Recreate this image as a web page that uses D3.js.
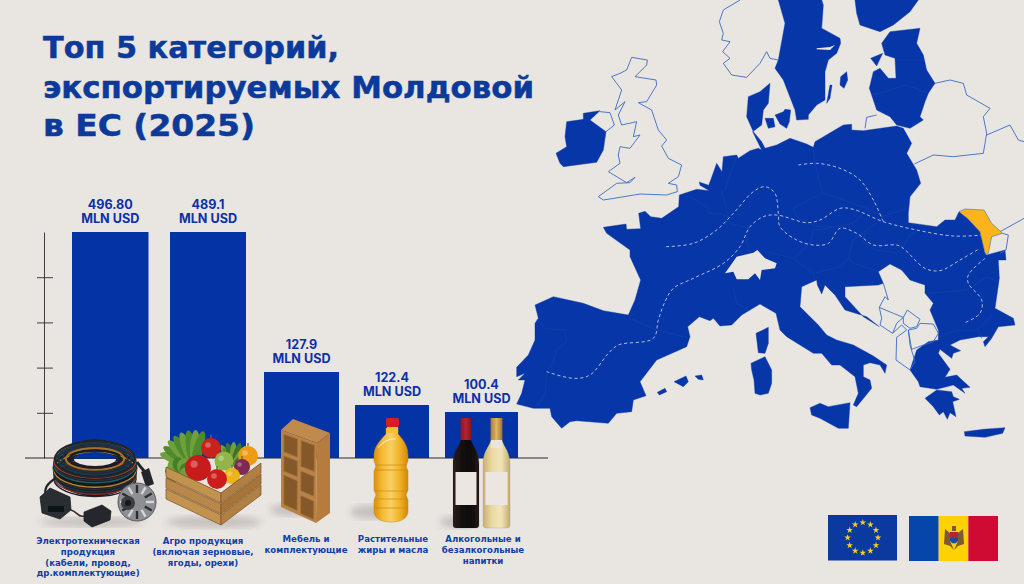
<!DOCTYPE html>
<html>
<head>
<meta charset="utf-8">
<script src="https://cdnjs.cloudflare.com/ajax/libs/d3/7.8.5/d3.min.js"></script>
<style>
  html, body { margin: 0; padding: 0; background: #e9e5e1; }
  svg { display: block; }
  .title { font: bold 29.5px "DejaVu Sans", sans-serif; fill: #0b3a9b; stroke: #0b3a9b; stroke-width: 0.5; }
  .val { font: bold 12.6px Inter, "Liberation Sans", sans-serif; fill: #0d30a8; text-anchor: middle; }
  .cat { font: bold 8.6px "DejaVu Sans", sans-serif; fill: #0f3fa8; text-anchor: middle; }
</style>
</head>
<body>
<svg id="chart" width="1024" height="584"></svg>
<script>
// chart data
var titleLines = ['Топ 5 категорий,', 'экспортируемых Молдовой', 'в ЕС (2025)'];
var categories = ['electro', 'agro', 'furniture', 'oils', 'drinks'];
var values = [496.8, 489.1, 127.9, 122.4, 100.4];
var valueLabels = ['496.80', '489.1', '127.9', '122.4', '100.4'];
var unitLabel = 'MLN USD';
var categoryLabels = [
  ['Электротехническая', 'продукция', '(кабели, провод,', 'др.комплектующие)'],
  ['Агро продукция', '(включая зерновые,', 'ягоды, орехи)'],
  ['Мебель и', 'комплектующие'],
  ['Растительные', 'жиры и масла'],
  ['Алкогольные и', 'безалкогольные', 'напитки']
];
var axisTicks = [1, 2, 3, 4];

// map outlines (3 units = 1 px)
var mainland = [[250,682],[318,672],[320,688],[362,686],[356,640],[375,634],[392,650],[425,655],[476,620],[478,585],[530,568],[568,572],[540,556],[538,546],[566,556],[574,535],[590,490],[606,515],[610,470],[650,465],[655,475],[690,452],[715,445],[725,450],[715,430],[698,395],[725,375],[730,330],[745,310],[750,250],[720,275],[685,290],[680,350],[700,395],[725,425],[735,445],[770,435],[810,415],[860,432],[880,442],[885,425],[970,375],[995,373],[995,390],[1030,392],[1130,378],[1150,385],[1175,430],[1160,460],[1190,510],[1202,550],[1170,590],[1165,640],[1165,668],[1250,680],[1275,660],[1305,660],[1317,635],[1342,655],[1380,695],[1395,760],[1400,765],[1455,750],[1458,780],[1435,780],[1438,835],[1425,925],[1480,955],[1485,975],[1435,980],[1415,1015],[1395,1040],[1390,1025],[1405,1010],[1375,1010],[1320,1020],[1290,1035],[1322,1052],[1300,1060],[1295,1075],[1260,1048],[1255,1060],[1290,1108],[1275,1132],[1310,1125],[1350,1162],[1325,1165],[1335,1180],[1300,1155],[1250,1168],[1200,1160],[1195,1145],[1170,1110],[1190,1050],[1225,1025],[1255,1020],[1255,990],[1230,930],[1240,910],[1215,880],[1215,855],[1170,840],[1145,810],[1110,792],[1075,815],[1090,850],[1075,855],[975,860],[975,890],[1030,950],[1078,980],[1040,950],[975,930],[945,885],[915,855],[905,882],[892,855],[890,840],[845,860],[840,920],[895,975],[920,1005],[950,1020],[1000,1035],[1060,1068],[1100,1095],[1095,1120],[1080,1095],[1050,1088],[1030,1095],[1030,1130],[1050,1140],[1055,1165],[1010,1220],[1000,1215],[1015,1180],[1005,1130],[960,1095],[935,1095],[905,1060],[880,1060],[800,1010],[780,990],[768,940],[720,912],[665,945],[635,975],[600,978],[580,955],[570,962],[538,950],[503,980],[510,1010],[500,1040],[410,1080],[360,1145],[378,1187],[340,1200],[335,1235],[290,1240],[265,1270],[170,1262],[150,1265],[125,1285],[95,1250],[90,1225],[40,1225],[-10,1212],[5,1180],[15,1140],[-5,1140],[15,1120],[-10,1130],[-10,1102],[25,1065],[45,1020],[45,970],[55,955],[45,915],[100,890],[190,910],[250,932],[325,945],[345,900],[362,840],[330,770],[330,750],[260,700]];
var landParts = [
  [[775,0],[905,0],[910,15],[905,85],[960,115],[962,130],[950,160],[925,180],[915,215],[915,300],[890,315],[865,345],[865,358],[830,360],[825,330],[790,240],[765,205],[775,180],[795,70]], // sweden
  [[1005,0],[1195,0],[1170,35],[1120,75],[1080,95],[1020,75],[1010,40]], // finland
  [[1085,130],[1110,95],[1200,85],[1190,130],[1210,165],[1220,210],[1245,250],[1225,280],[1215,305],[1200,350],[1210,360],[1170,385],[1130,375],[1110,350],[1070,330],[1060,300],[1048,265],[1060,215],[1080,205],[1105,235],[1128,235],[1125,175],[1095,165]], // baltics
  [[1052,175],[1088,160],[1070,198]],
  [[962,230],[980,215],[983,240],[972,265],[960,255]],
  [[920,310],[930,255],[936,255],[930,295]],
  [[735,355],[760,355],[765,380],[745,385]],
  [[765,345],[790,335],[795,328],[812,330],[808,365],[800,385],[780,372]],
  [[108,460],[140,440],[135,410],[140,365],[190,358],[190,340],[240,332],[210,360],[258,395],[250,450],[230,487],[130,500],[120,490]], // ireland
  [[870,1223],[900,1210],[925,1220],[990,1208],[985,1285],[955,1285],[900,1255],[875,1245]], // sicily
  [[708,1000],[745,982],[745,1030],[735,1060],[715,1058]],
  [[693,1090],[735,1070],[755,1110],[755,1150],[745,1180],[720,1185],[705,1180],[702,1140],[695,1110]],
  [[412,1177],[435,1165],[440,1175],[418,1185]],
  [[462,1145],[498,1128],[505,1145],[490,1160]],
  [[525,1128],[545,1125],[550,1140],[535,1138]],
  [[1215,1195],[1250,1170],[1295,1175],[1300,1190],[1318,1198],[1298,1205],[1308,1250],[1290,1238],[1282,1258],[1270,1235],[1258,1245],[1240,1220]], // peloponnese
  [[1333,1295],[1390,1288],[1455,1283],[1448,1300],[1395,1312],[1335,1308]] // crete
];
var cutouts = [
  [[615,820],[650,770],[700,758],[712,750],[735,775],[770,790],[765,805],[725,810],[720,840],[705,820],[685,838],[650,838],[640,815]], // switzerland
  [[890,145],[930,141],[945,135],[930,150],[890,148]]
];
var moldova = [[1317,635],[1335,627],[1392,630],[1415,670],[1448,700],[1415,710],[1405,760],[1395,760],[1380,695],[1342,655]];
var outlines = [
  [[660,0],[610,30],[598,65],[610,100],[605,120],[630,125],[608,155],[630,175],[610,190],[635,225],[680,232],[720,190],[740,155],[750,175],[775,180]], // norway
  [[335,172],[382,180],[380,195],[345,230],[408,240],[410,255],[380,305],[355,308],[395,330],[415,390],[440,420],[425,438],[445,475],[485,495],[475,530],[445,550],[470,555],[472,575],[440,585],[360,582],[300,592],[250,600],[235,590],[290,550],[330,548],[345,532],[320,548],[265,515],[300,490],[295,465],[300,440],[330,445],[360,405],[340,410],[350,365],[305,375],[295,345],[315,305],[285,330],[305,270],[275,230],[300,220],[320,210],[335,172]], // britain
  [[240,335],[270,338],[283,375],[258,395]],
  [[1245,250],[1290,240],[1330,250],[1340,285],[1410,325],[1390,350],[1400,400],[1390,460],[1300,470],[1240,465],[1183,492]], // belarus
  [[1400,405],[1470,375],[1495,420],[1512,425]],
  [[1035,385],[1040,352],[1070,345]],
  [[1448,700],[1465,705],[1458,750],[1440,760]],
  [[1440,695],[1500,662],[1512,655]],
  [[1090,850],[1105,900],[1095,890],[1078,922]],
  [[1078,922],[1120,940],[1150,952],[1130,970],[1118,1000],[1080,975],[1085,955],[1078,922]],
  [[1150,952],[1162,930],[1200,958],[1190,980],[1170,985],[1150,970],[1150,952]],
  [[1118,1000],[1145,975],[1160,990],[1130,1012],[1128,1080],[1170,1110],[1185,1085],[1170,1035],[1165,990]],
  [[1165,990],[1190,985],[1200,970],[1240,972],[1255,1000],[1240,1025],[1210,1035],[1175,1048],[1165,990]]
];
var borders = [
  [[510,590],[560,620],[570,640],[600,640],[625,650],[630,670],[685,685],[680,725],[690,757]],
  [[615,570],[625,540],[650,470]],
  [[605,570],[625,650]],
  [[880,445],[885,490],[905,570],[905,578]],
  [[820,625],[905,578],[970,600],[1040,625],[1090,650],[1160,625]],
  [[820,625],[830,650],[890,680],[950,680],[1000,670],[1030,640]],
  [[1090,650],[1040,690],[1030,725],[1065,750],[1140,760],[1165,710],[1190,690]],
  [[950,680],[880,690],[870,730],[820,775],[740,755]],
  [[820,775],[880,820],[885,840]],
  [[880,820],[960,800],[985,775],[1000,790],[1075,815]],
  [[985,775],[1000,720],[1040,690]],
  [[330,955],[410,990],[500,1012]],
  [[50,960],[75,985],[135,990],[140,1025],[110,1050],[100,1090],[80,1115],[75,1180],[50,1220]],
  [[640,860],[650,910],[690,930]],
  [[1225,880],[1340,870],[1400,830],[1435,845]],
  [[1255,1012],[1310,990],[1375,990],[1420,940]],
  [[1375,990],[1385,1015]],
  [[1130,180],[1210,180]],
  [[1060,285],[1160,255],[1225,280]]
];
var routes = [
  [[835,495],[890,490],[960,505],[1020,540],[1060,600],[1090,665]],
  [[1390,705],[1300,708],[1190,690],[1090,665],[1000,628],[960,625],[900,660],[860,668],[770,645],[730,650],[690,680],[660,740],[610,790],[520,835],[460,865],[435,905],[415,960],[400,1015],[295,1035],[265,1060],[210,1125],[160,1135],[80,1115]],
  [[438,740],[520,730],[590,690],[640,640],[700,575],[735,560],[765,580],[775,640],[780,680],[830,720],[880,735],[925,730],[960,685],[1010,700],[1060,735],[1130,735],[1150,745],[1215,805],[1260,812],[1320,780],[1380,745]],
  [[1395,775],[1345,825],[1345,850],[1385,900],[1380,940],[1335,968]]
];

var blue = '#0433a6', ink = '#2b2b2b', mapBlue = '#0736a8';
var svg = d3.select('#chart');
var defs = svg.append('defs');
defs.append('filter').attr('id', 'soft').append('feGaussianBlur').attr('stdDeviation', 3.5);
defs.append('filter').attr('id', 'tiny').append('feGaussianBlur').attr('stdDeviation', 0.3);

function gradient(id, stops, vertical) {
  var g = defs.append('linearGradient').attr('id', id)
    .attr('x1', 0).attr('y1', 0).attr('x2', vertical ? 0 : 1).attr('y2', vertical ? 1 : 0);
  stops.forEach(function(s, i) {
    g.append('stop').attr('offset', i / (stops.length - 1)).attr('stop-color', s);
  });
  return 'url(#' + id + ')';
}

svg.append('rect').attr('width', 1024).attr('height', 584).attr('fill', '#e9e5e1');

// ---- map ----
var mapX = d3.scaleLinear().domain([0, 1512]).range([520, 1024]);
var mapY = d3.scaleLinear().domain([0, 1752]).range([0, 584]);
var shape = d3.line().x(function(d) { return mapX(d[0]); }).y(function(d) { return mapY(d[1]); });
var smooth = d3.line().x(function(d) { return mapX(d[0]); }).y(function(d) { return mapY(d[1]); }).curve(d3.curveCatmullRom);
var map = svg.append('g');

map.selectAll('.land').data([mainland].concat(landParts)).join('path').attr('class', 'land')
  .attr('d', function(d) { return shape(d) + 'Z'; }).attr('fill', mapBlue).attr('stroke', mapBlue).attr('stroke-width', 0.4);
map.selectAll('.cut').data(cutouts).join('path').attr('class', 'cut')
  .attr('d', function(d) { return shape(d) + 'Z'; }).attr('fill', '#e9e5e1');
map.selectAll('.border').data(borders).join('path').attr('class', 'border')
  .attr('d', shape).attr('fill', 'none').attr('stroke', '#1346ac').attr('stroke-width', 0.6);
map.selectAll('.outline').data(outlines).join('path').attr('class', 'outline')
  .attr('d', shape).attr('fill', 'none').attr('stroke', '#3a6cc6').attr('stroke-width', 0.9);
map.selectAll('.route').data(routes).join('path').attr('class', 'route')
  .attr('d', smooth).attr('fill', 'none').attr('stroke', '#c6cbe0').attr('stroke-width', 0.9).attr('stroke-dasharray', '3.2 2.6');
map.append('path').attr('d', shape(moldova) + 'Z').attr('fill', '#fbb41c').attr('stroke', '#2a5fb8').attr('stroke-width', 0.5);

// ---- title ----
var titleWidths = d3.scaleOrdinal(titleLines, [296, 491, 212]);
svg.selectAll('.title').data(titleLines).join('text').attr('class', 'title')
  .attr('x', 43).attr('y', function(d, i) { return [58, 98, 136][i]; })
  .attr('textLength', function(d) { return titleWidths(d); }).attr('lengthAdjust', 'spacingAndGlyphs')
  .text(function(d) { return d; });

// ---- bars ----
// the picture's bars are not to one linear scale, so the scale follows it value by value
var y = d3.scaleLinear().domain([0, 100.4, 122.4, 127.9, 489.1, 496.8]).range([458, 412, 405, 372, 232, 232]);
var xLeft = d3.scaleOrdinal(categories, [72, 170, 264, 355, 445]);
var xRight = d3.scaleOrdinal(categories, [148.5, 246, 339, 429, 518]);
var rows = categories.map(function(c, i) { return { cat: c, v: values[i], label: valueLabels[i], lines: categoryLabels[i] }; });

svg.selectAll('.bar').data(rows).join('rect').attr('class', 'bar')
  .attr('x', function(d) { return xLeft(d.cat); })
  .attr('y', function(d) { return y(d.v); })
  .attr('width', function(d) { return xRight(d.cat) - xLeft(d.cat); })
  .attr('height', function(d) { return y(0) - y(d.v); })
  .attr('fill', blue);

var labels = svg.selectAll('.lab').data(rows).join('g').attr('class', 'lab')
  .attr('transform', function(d) { return 'translate(' + (xLeft(d.cat) + xRight(d.cat)) / 2 + ',' + y(d.v) + ')'; });
labels.append('text').attr('class', 'val').attr('y', -23).text(function(d) { return d.label; });
labels.append('text').attr('class', 'val').attr('y', -9).text(unitLabel);

// unlabelled value axis
var axisScale = d3.scaleLinear().domain([0, 5]).range([458, 232]);
var axis = svg.append('g').attr('transform', 'translate(44,0)')
  .call(d3.axisLeft(axisScale).tickValues(axisTicks).tickSize(7).tickFormat('').tickSizeOuter(0));
axis.select('.domain').attr('stroke', ink).attr('stroke-width', 0.9);
axis.selectAll('.tick line').attr('x2', 9).attr('x1', -7).attr('stroke', ink).attr('stroke-width', 0.9);
svg.append('line').attr('x1', 25).attr('x2', 548).attr('y1', 458).attr('y2', 458).attr('stroke', ink).attr('stroke-width', 1);

// ---- product pictures ----
var pics = svg.append('g').attr('filter', 'url(#tiny)');
function shadow(cx, cy, rx, ry) {
  pics.append('ellipse').attr('cx', cx).attr('cy', cy).attr('rx', rx).attr('ry', ry)
    .attr('fill', '#6b6560').attr('opacity', 0.28).attr('filter', 'url(#soft)');
}
function poly(g, pts, fill, stroke) {
  return g.append('polygon').attr('points', pts.join(' ')).attr('fill', fill)
    .attr('stroke', stroke || 'none').attr('stroke-width', stroke ? 0.7 : 0);
}

// cable coil
shadow(92, 522, 52, 5);
var cableColors = ['#1d2026', '#8f2a26', '#15384f', '#2a2d33', '#b9862a', '#14161b', '#1b5f66', '#2f3238', '#a8402a', '#14161b'];
pics.append('ellipse').attr('cx', 95).attr('cy', 468).attr('rx', 42.5).attr('ry', 28.5).attr('fill', '#1a1c21');
d3.range(9).forEach(function(i) {
  pics.append('ellipse').attr('cx', 95).attr('cy', 479 - i * 2.3).attr('rx', 41).attr('ry', 17.5)
    .attr('fill', 'none').attr('stroke', cableColors[i]).attr('stroke-width', 1.4);
});
['#23262c', '#15384f', '#2a2d33', '#a8722a', '#1b1d22'].forEach(function(c, i) {
  pics.append('ellipse').attr('cx', 95).attr('cy', 459).attr('rx', 40 - i * 3.6).attr('ry', 18 - i * 2.4)
    .attr('fill', 'none').attr('stroke', c).attr('stroke-width', 2.1);
});
pics.append('ellipse').attr('cx', 95).attr('cy', 459).attr('rx', 21).attr('ry', 7).attr('fill', blue);
pics.append('path').attr('d', 'M74,459A21,7 0 0 0 116,459Z').attr('fill', '#e9e5e1');
pics.append('line').attr('x1', 74).attr('x2', 116).attr('y1', 458).attr('y2', 458).attr('stroke', ink).attr('stroke-width', 1);
pics.append('path').attr('d', 'M56,478C46,484 44,490 46,494').attr('fill', 'none').attr('stroke', '#23262b').attr('stroke-width', 2.2);
pics.append('path').attr('d', 'M137,462C141,468 144,470 146,474').attr('fill', 'none').attr('stroke', '#23262b').attr('stroke-width', 3);
poly(pics, [[141,472],[149,468],[154,484],[146,487]], '#24262b');
poly(pics, [[40,497],[50,488],[70,497],[71,510],[60,519],[42,513]], '#2c2e33', '#17181b');
poly(pics, [[48,506],[64,506],[64,512],[48,512]], '#111214');
pics.append('path').attr('d', 'M71,510C78,512 78,518 84,516').attr('fill', 'none').attr('stroke', '#3a2f25').attr('stroke-width', 1.6);
poly(pics, [[84,512],[102,505],[111,511],[110,520],[92,527],[84,521]], '#26282d', '#15161a');
// alternator
pics.append('circle').attr('cx', 137).attr('cy', 502).attr('r', 19).attr('fill', '#8d8f93').attr('stroke', '#55575b').attr('stroke-width', 1);
d3.range(12).forEach(function(i) {
  var a = i * Math.PI / 6;
  pics.append('line').attr('x1', 137 + 9 * Math.cos(a)).attr('y1', 502 + 9 * Math.sin(a))
    .attr('x2', 137 + 17 * Math.cos(a)).attr('y2', 502 + 17 * Math.sin(a))
    .attr('stroke', i % 2 ? '#2c2d30' : '#d5d6d8').attr('stroke-width', 2.4);
});
pics.append('circle').attr('cx', 128).attr('cy', 503).attr('r', 7).attr('fill', '#3b3c40');
pics.append('circle').attr('cx', 128).attr('cy', 503).attr('r', 3).attr('fill', '#15161a');

// crate with vegetables
shadow(214, 522, 48, 6);
function leaves(cx, cy, len, wid, from, to, n, fill) {
  d3.range(n).forEach(function(i) {
    var a = from + (to - from) * i / (n - 1);
    pics.append('ellipse').attr('cx', 0).attr('cy', -len / 2).attr('rx', wid).attr('ry', len / 2)
      .attr('fill', i % 2 ? fill : '#6f9f3a')
      .attr('transform', 'translate(' + cx + ',' + cy + ') rotate(' + a + ')');
  });
}
leaves(194, 466, 36, 5, -70, 15, 8, '#4f8a2e');
leaves(180, 472, 15, 6, -120, 100, 7, '#43802b');
leaves(233, 466, 24, 3.5, -30, 65, 7, '#3e7327');
[[211,448,10,'#c9201d'],[224,461,9.5,'#93b449'],[248,456,10,'#ee9c16'],[242,467,8,'#7e2a52'],[198,468,13,'#c81c1a'],[232,476,8,'#edb41c'],[217,479,10,'#cc1e1a']].forEach(function(v) {
  pics.append('circle').attr('cx', v[0]).attr('cy', v[1]).attr('r', v[2]).attr('fill', v[3]);
  pics.append('circle').attr('cx', v[0] - v[2] * 0.3).attr('cy', v[1] - v[2] * 0.3).attr('r', v[2] * 0.28).attr('fill', '#fff').attr('opacity', 0.3);
  pics.append('path').attr('d', 'M' + v[0] + ',' + (v[1] - v[2]) + 'l0,-3').attr('stroke', '#4c7d2a').attr('stroke-width', 1.4);
});
poly(pics, [[166,467],[221,493],[261,463],[261,468],[221,498],[166,472]], '#8a5a2c');
[0, 1, 2].forEach(function(i) {
  var t = 467 + i * 11, p = 10;
  poly(pics, [[166,t],[221,t + 26],[221,t + 26 + p],[166,t + p]], i % 2 ? '#b9874a' : '#c2924f', '#7b5128');
  poly(pics, [[221,t + 26],[261,t - 4],[261,t - 4 + p],[221,t + 26 + p]], i % 2 ? '#a67339' : '#b07f42', '#7b5128');
});

// shelf, drawn on its slanted front face
shadow(292, 510, 22, 6);
function onFace(s, t) {
  var a = [281, 430], b = [317, 443], c = [316, 523], d = [281, 507];
  return [a[0] + (b[0] - a[0]) * s + (d[0] - a[0] + (c[0] - b[0] - d[0] + a[0]) * s) * t,
          a[1] + (b[1] - a[1]) * s + (d[1] - a[1] + (c[1] - b[1] - d[1] + a[1]) * s) * t];
}
poly(pics, [[281,430],[293,419],[330,433],[317,443]], '#c08a4d');
poly(pics, [[317,443],[330,433],[330,513],[316,523]], '#b57c3e');
poly(pics, [onFace(0,0), onFace(1,0), onFace(1,1), onFace(0,1)], '#b98246');
[[.08,.04,.46,.27],[.08,.32,.46,.52],[.08,.57,.46,.95],[.56,.04,.93,.37],[.56,.43,.93,.68],[.56,.74,.93,.97]].forEach(function(b) {
  poly(pics, [onFace(b[0],b[1]), onFace(b[2],b[1]), onFace(b[2],b[3]), onFace(b[0],b[3])], '#85592c', '#a5713a');
});

// oil bottle
shadow(372, 512, 22, 7);
var oil = gradient('oilFill', ['#d98f0e', '#f4bb34', '#f9cf66', '#f2b427', '#d0870b']);
pics.append('path').attr('fill', oil).attr('stroke', '#c98a14').attr('stroke-width', 0.5)
  .attr('d', 'M386,428h12v6C404,441 408,446 408,456V461L406,466L408,471V490L406,495L408,500V511C408,519 400,522 391,522C382,522 374,519 374,511V500L376,495L374,490V471L376,466L374,461V456C374,446 380,441 386,434Z');
[465, 470, 491, 499, 508].forEach(function(t) {
  pics.append('line').attr('x1', 375).attr('x2', 407).attr('y1', t).attr('y2', t).attr('stroke', '#c9860e').attr('stroke-width', 0.9).attr('opacity', 0.75);
});
pics.append('path').attr('d', 'M378,448Q386,438 396,439').attr('fill', 'none').attr('stroke', '#fff').attr('stroke-width', 1.1).attr('opacity', 0.55);
pics.append('rect').attr('x', 386).attr('y', 418).attr('width', 13).attr('height', 9).attr('rx', 2).attr('fill', '#d81e28');
pics.append('rect').attr('x', 387).attr('y', 427).attr('width', 11).attr('height', 6).attr('fill', '#f2c230');

// wine bottles
shadow(458, 522, 18, 6);
function bottle(cx, halfBody, halfNeck, glass, foil, top, label) {
  var b = 528, sh = 452, h = 438;
  pics.append('path').attr('fill', glass).attr('stroke', 'rgba(40,30,20,.25)').attr('stroke-width', 0.4)
    .attr('d', 'M' + (cx - halfNeck) + ',' + top + 'H' + (cx + halfNeck) + 'V' + h +
      'C' + (cx + halfNeck) + ',' + (sh - 6) + ' ' + (cx + halfBody) + ',' + (sh - 3) + ' ' + (cx + halfBody) + ',' + (sh + 12) +
      'V' + (b - 3) + 'Q' + (cx + halfBody) + ',' + b + ' ' + (cx + halfBody - 3) + ',' + b +
      'H' + (cx - halfBody + 3) + 'Q' + (cx - halfBody) + ',' + b + ' ' + (cx - halfBody) + ',' + (b - 3) +
      'V' + (sh + 12) + 'C' + (cx - halfBody) + ',' + (sh - 3) + ' ' + (cx - halfNeck) + ',' + (sh - 6) + ' ' + (cx - halfNeck) + ',' + h + 'Z');
  pics.append('rect').attr('x', cx - halfNeck - 0.4).attr('y', top).attr('width', 2 * halfNeck + 0.8).attr('height', 22).attr('fill', foil);
  pics.append('rect').attr('x', cx - label).attr('y', 472).attr('width', 2 * label).attr('height', 33).attr('fill', '#ebe7e0');
}
bottle(466, 13, 5, gradient('darkGlass', ['#2b1d1c', '#15100f', '#0c0908', '#241817']), gradient('redFoil', ['#8a1c24', '#b8212c', '#7f1620']), 418, 10.5);
bottle(496.5, 13.5, 5.5, gradient('paleGlass', ['#c9b271', '#ead9a0', '#f1e5bd', '#c4ac68']), gradient('goldFoil', ['#a97f2e', '#dcb767', '#a07727']), 418, 11);
pics.append('rect').attr('x', 491).attr('y', 440).attr('width', 11).attr('height', 8).attr('fill', '#e9e5dc');

// category captions
var captions = svg.selectAll('.caption').data(rows).join('g').attr('class', 'caption');
var captionX = d3.scaleOrdinal(categories, [88, 203, 306, 393, 483]);
var captionY = d3.scaleOrdinal(categories, [544, 544, 542, 542, 542]);
captions.selectAll('text').data(function(d) { return d.lines.map(function(t, i) { return { cat: d.cat, t: t, i: i }; }); })
  .join('text').attr('class', 'cat')
  .attr('x', function(d) { return captionX(d.cat); })
  .attr('y', function(d) { return captionY(d.cat) + d.i * 10.8; })
  .text(function(d) { return d.t; });

// ---- flags ----
var eu = svg.append('g');
eu.append('rect').attr('x', 828).attr('y', 515).attr('width', 69).attr('height', 45.5).attr('fill', '#0a3a9f');
eu.selectAll('path').data(d3.range(12)).join('path')
  .attr('d', d3.symbol(d3.symbolStar, 14))
  .attr('fill', '#f7d117')
  .attr('transform', function(i) {
    var a = i * Math.PI / 6;
    return 'translate(' + (862.8 + 15.2 * Math.sin(a)) + ',' + (537.7 - 15.2 * Math.cos(a)) + ')';
  });

var md = svg.append('g');
var mdStripes = d3.scaleBand().domain(['#0546ab', '#fdd200', '#cf0a33']).range([909, 998]);
md.selectAll('rect').data(mdStripes.domain()).join('rect')
  .attr('x', function(c) { return mdStripes(c); }).attr('y', 516).attr('width', mdStripes.bandwidth()).attr('height', 45)
  .attr('fill', function(c) { return c; });
md.append('path').attr('fill', '#7d5a35').attr('d', 'M945,529L950,533V541L954,550L958,541V533L963,529L964,544L958,546L954,550L950,546L944,544Z');
md.append('path').attr('fill', '#7d5a35').attr('d', 'M952,526H956V531H952Z');
md.append('path').attr('fill', '#b5252f').attr('d', 'M950,532H958V538H950Z');
md.append('path').attr('fill', '#1a4aa8').attr('d', 'M950,538H958V541Q954,546 950,541Z');
</script>
</body>
</html>
